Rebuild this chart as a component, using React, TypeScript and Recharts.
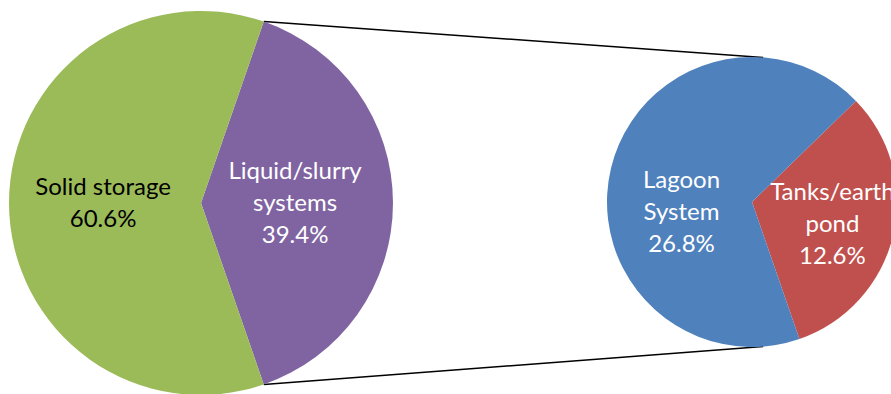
import React from "react";
import { PieChart, Pie, Cell, Customized } from "recharts";

const mainNames = ["Liquid/slurry systems", "Solid storage"];
const mainValues = [39.4, 60.6];
const mainLabels = [["Liquid/slurry", "systems", "39.4%"], ["Solid storage", "60.6%"]];
const mainColors = ["#8064A2", "#9BBB59"];
const mainTextColors = ["#FFFFFF", "#000000"];

const subNames = ["Tanks/earth pond", "Lagoon System"];
const subValues = [12.6, 26.8];
const subLabels = [["Tanks/earth", "pond", "12.6%"], ["Lagoon", "System", "26.8%"]];
const subColors = ["#C0504D", "#4F81BD"];
const subTextColors = ["#FFFFFF", "#FFFFFF"];

const mainData = mainNames.map((name, i) => ({ name, value: mainValues[i], lines: mainLabels[i], tc: mainTextColors[i] }));
const subData = subNames.map((name, i) => ({ name, value: subValues[i], lines: subLabels[i], tc: subTextColors[i] }));

// layout
const W = 960;
const H = 394;
const MAIN = { cx: 201, cy: 203, r: 192 };
const SUB = { cx: 752, cy: 202, r: 145 };
const total = mainValues.reduce((a, b) => a + b, 0);
const linkedShare = mainValues[0] / total;
const START = -(linkedShare * 360) / 2;
const END = START + 360;

const FONT = "Lato, 'Open Sans', sans-serif";
const FS = 24;
const LH = 32;

const labelTweak: Record<string, { f: number; dx: number; dy: number }> = {
  "Liquid/slurry systems": { f: 0.49, dx: 0, dy: 0 },
  "Solid storage": { f: 0.51, dx: 0, dy: 0 },
  "Tanks/earth pond": { f: 0.57, dx: 0, dy: 3 },
  "Lagoon System": { f: 0.5, dx: 0, dy: 27 },
};

const RAD = Math.PI / 180;

const renderLabel = (props: any) => {
  const { cx, cy, midAngle, outerRadius, payload, name } = props;
  const nm = name ?? payload?.name;
  const t = labelTweak[nm] || { f: 0.5, dx: 0, dy: 0 };
  const lines: string[] = payload?.lines ?? props.lines ?? [];
  const tc = payload?.tc ?? props.tc;
  const x = cx + outerRadius * t.f * Math.cos(-midAngle * RAD) + t.dx;
  const y = cy + outerRadius * t.f * Math.sin(-midAngle * RAD) + t.dy;
  const first = y - (LH * (lines.length - 1)) / 2 + 8;
  return (
    <text x={x} y={first} textAnchor="middle" fill={tc} fontFamily={FONT} fontSize={FS}>
      {lines.map((l, i) => (
        <tspan key={i} x={x} y={first + i * LH}>
          {l}
        </tspan>
      ))}
    </text>
  );
};

const Connectors = () => {
  const a1 = START * RAD;
  const p1 = { x: MAIN.cx + MAIN.r * Math.cos(-a1), y: MAIN.cy - MAIN.r * Math.sin(-a1) };
  const p2 = { x: MAIN.cx + MAIN.r * Math.cos(a1), y: MAIN.cy - MAIN.r * Math.sin(a1) };
  const tA = 85.6 * RAD;
  const q1 = { x: SUB.cx + SUB.r * Math.cos(tA), y: SUB.cy - SUB.r * Math.sin(tA) };
  const q2 = { x: SUB.cx + SUB.r * Math.cos(-tA), y: SUB.cy - SUB.r * Math.sin(-tA) };
  return (
    <g>
      <line x1={p1.x} y1={p1.y} x2={q1.x} y2={q1.y} stroke="#000" strokeWidth={1.5} />
      <line x1={p2.x} y1={p2.y} x2={q2.x} y2={q2.y} stroke="#000" strokeWidth={1.5} />
    </g>
  );
};

export default function App() {
  return (
    <div style={{ position: "fixed", left: 0, top: 0, width: 891, height: 394, overflow: "hidden", background: "#fff" }}>
      <PieChart width={W} height={H} margin={{ top: 0, right: 0, bottom: 0, left: 0 }}>
        <Customized component={<Connectors />} />
        <Pie
          data={mainData}
          dataKey="value"
          nameKey="name"
          cx={MAIN.cx}
          cy={MAIN.cy}
          outerRadius={MAIN.r}
          startAngle={START}
          endAngle={END}
          stroke="none"
          isAnimationActive={false}
          labelLine={false}
          label={renderLabel}
        >
          {mainData.map((d, i) => (
            <Cell key={d.name} fill={mainColors[i]} />
          ))}
        </Pie>
        <Pie
          data={subData}
          dataKey="value"
          nameKey="name"
          cx={SUB.cx}
          cy={SUB.cy}
          outerRadius={SUB.r}
          startAngle={START}
          endAngle={END}
          stroke="none"
          isAnimationActive={false}
          labelLine={false}
          label={renderLabel}
        >
          {subData.map((d, i) => (
            <Cell key={d.name} fill={subColors[i]} />
          ))}
        </Pie>
      </PieChart>
    </div>
  );
}
